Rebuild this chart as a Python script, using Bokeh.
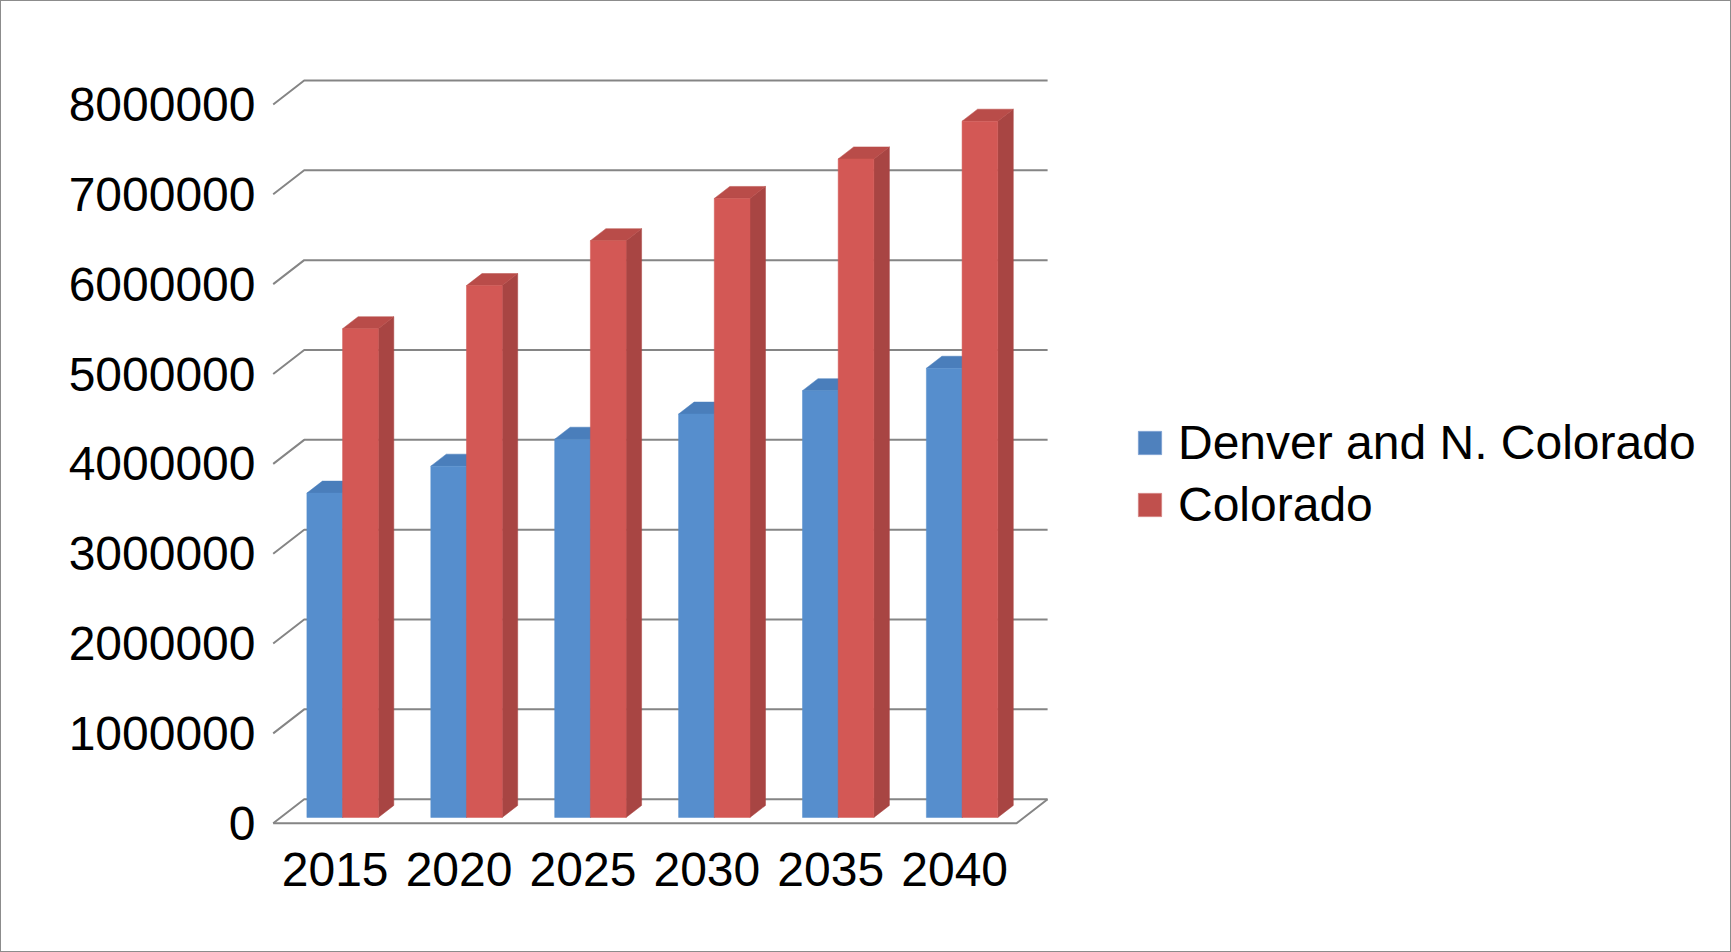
from bokeh.plotting import figure
from bokeh.models import (Range1d, LinearAxis, FixedTicker, Legend, LegendItem)
from bokeh.embed import file_html
from bokeh.resources import INLINE

# ---------------- data ----------------
years = ["2015", "2020", "2025", "2030", "2035", "2040"]
denver = [3610000, 3910000, 4210000, 4490000, 4750000, 5000000]
colorado = [5440000, 5920000, 6420000, 6890000, 7330000, 7750000]
series_names = ["Denver and N. Colorado", "Colorado"]
y_ticks = [0, 1000000, 2000000, 3000000, 4000000, 5000000, 6000000, 7000000, 8000000]
y_tick_labels = ["0", "1000000", "2000000", "3000000", "4000000",
                 "5000000", "6000000", "7000000", "8000000"]

# ---------------- geometry (pixels -> data) ----------------
W, H = 1731, 952
PX_PER_CAT = 123.9
PX_PER_UNIT = 89.84e-6
X0_PAGE = 271.7      # front-left corner of floor
Y0_PAGE = 821.7      # front floor line (value 0)
FRAME_LEFT = 264
FRAME_BOTTOM = 832
FRAME_TOP = 0
FRAME_RIGHT = W

x_start = (FRAME_LEFT - X0_PAGE) / PX_PER_CAT
x_end = (FRAME_RIGHT - X0_PAGE) / PX_PER_CAT
y_start = (Y0_PAGE - FRAME_BOTTOM) / PX_PER_UNIT
y_end = (Y0_PAGE - FRAME_TOP) / PX_PER_UNIT

DX = 31 / PX_PER_CAT           # floor depth, x
DY = 24 / PX_PER_UNIT          # floor depth, y
D0, D1 = 0.24, 0.74            # bar depth span (fraction of floor depth)
BW = 35.7 / PX_PER_CAT         # bar width
N = len(years)

FONT = "Liberation Sans"
FS = "48px"

p = figure(width=W, height=H,
           x_range=Range1d(x_start, x_end), y_range=Range1d(y_start, y_end),
           x_axis_type=None, y_axis_type=None,
           min_border_left=FRAME_LEFT, min_border_right=0,
           min_border_top=0, min_border_bottom=H - FRAME_BOTTOM,
           output_backend="svg", toolbar_location=None,
           outline_line_color=None, background_fill_color="white",
           border_fill_color="white",
           styles={"border": "1px solid #8c8c8c", "box-sizing": "border-box"})
p.xgrid.visible = False
p.ygrid.visible = False

# ---------------- gridlines on the back wall ----------------
gx, gy = [], []
for v in y_ticks:
    gx.append([0, DX, N + DX])
    gy.append([v, v + DY, v + DY])
p.multi_line(xs=gx, ys=gy, line_color="#858585", line_width=2)
# floor outline
p.line(x=[0, N, N + DX], y=[0, 0, DY], line_color="#858585", line_width=2)

# ---------------- 3D bars ----------------
def bar_polys(values, side):
    fronts_x, fronts_y, tops_x, tops_y, sides_x, sides_y = [], [], [], [], [], []
    for i, v in enumerate(values):
        c = i + 0.5
        L = c - BW if side == 0 else c
        R = L + BW
        fx0, fy0 = D0 * DX, D0 * DY
        fx1, fy1 = D1 * DX, D1 * DY
        fronts_x.append([L + fx0, R + fx0, R + fx0, L + fx0])
        fronts_y.append([fy0, fy0, v + fy0, v + fy0])
        tops_x.append([L + fx0, R + fx0, R + fx1, L + fx1])
        tops_y.append([v + fy0, v + fy0, v + fy1, v + fy1])
        sides_x.append([R + fx0, R + fx1, R + fx1, R + fx0])
        sides_y.append([fy0, fy1, v + fy1, v + fy0])
    return fronts_x, fronts_y, tops_x, tops_y, sides_x, sides_y

styles = [("#568ECD", "#4A7EBB", "#42709F"), ("#D35855", "#B94C49", "#A84543")]
for s_idx, vals in enumerate([denver, colorado]):
    fx, fy, tx, ty, sx, sy = bar_polys(vals, s_idx)
    cf, ct, cs = styles[s_idx]
    p.patches(xs=sx, ys=sy, fill_color=cs, line_color=cs, line_width=0.5)
    p.patches(xs=tx, ys=ty, fill_color=ct, line_color=ct, line_width=0.5)
    p.patches(xs=fx, ys=fy, fill_color=cf, line_color=cf, line_width=0.5)

# ---------------- axes ----------------
yax = LinearAxis(ticker=FixedTicker(ticks=y_ticks),
                 major_label_overrides={t: l for t, l in zip(y_ticks, y_tick_labels)})
yax.axis_line_color = None
yax.major_tick_line_color = None
yax.minor_tick_line_color = None
yax.major_tick_out = 0
yax.major_tick_in = 0
yax.major_label_standoff = 10
yax.major_label_text_font = FONT
yax.major_label_text_font_size = FS
yax.major_label_text_color = "black"
p.add_layout(yax, "left")

x_pos = [i + 0.5 for i in range(N)]
xax = LinearAxis(ticker=FixedTicker(ticks=x_pos),
                 major_label_overrides={x: y for x, y in zip(x_pos, years)})
xax.axis_line_color = None
xax.major_tick_line_color = None
xax.minor_tick_line_color = None
xax.major_tick_out = 0
xax.major_tick_in = 0
xax.major_label_standoff = 19
xax.major_label_text_font = FONT
xax.major_label_text_font_size = FS
xax.major_label_text_color = "black"
p.add_layout(xax, "below")

# ---------------- legend ----------------
nan = float("nan")
r_blue = p.patches(xs=[[nan]], ys=[[nan]], fill_color="#4F81BD", line_color="#7FA3D3", line_width=1)
r_red = p.patches(xs=[[nan]], ys=[[nan]], fill_color="#C0504D", line_color="#D58583", line_width=1)
legend = Legend(items=[LegendItem(label=series_names[0], renderers=[r_blue]),
                       LegendItem(label=series_names[1], renderers=[r_red])],
                location=(1134 - FRAME_LEFT, FRAME_BOTTOM - 531),
                glyph_width=29, glyph_height=29, label_standoff=14,
                label_text_font=FONT, label_text_font_size=FS,
                label_text_color="black", spacing=7, padding=0, margin=0,
                border_line_color=None, background_fill_alpha=0)
p.add_layout(legend)

open("out.html", "w").write(file_html(p, INLINE))
